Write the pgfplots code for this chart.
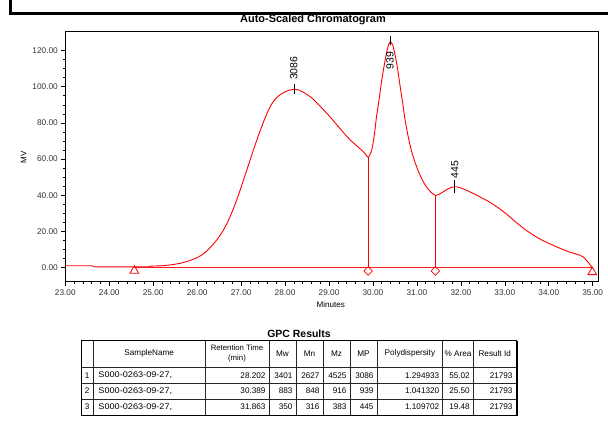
\documentclass[border=0pt]{standalone}
\usepackage{pgfplots}
\pgfplotsset{compat=1.18}
\usepackage{fontspec}
\setmainfont{Liberation Sans}

% detector trace (minutes, mV)
\pgfplotstableread{
t v
23.00 1.1
23.60 1.1
23.65 0.55
24.00 0.5
24.50 0.5
24.90 0.55
24.95 0.9
25.20 1.1
25.40 1.6
25.60 2.4
25.80 3.7
26.00 5.6
26.10 7.0
26.20 8.9
26.30 11.3
26.40 14.0
26.50 17.1
26.60 20.9
26.70 25.6
26.80 31.1
26.90 37.5
27.00 44.5
27.10 51.8
27.20 59.2
27.30 66.5
27.40 73.5
27.50 80.0
27.60 85.9
27.70 90.6
27.80 93.8
27.90 95.8
28.00 97.2
28.10 98.1
28.20 98.6
28.30 98.3
28.40 97.2
28.50 95.7
28.60 94.0
28.70 91.7
28.80 89.2
28.90 86.6
29.00 84.0
29.10 81.2
29.20 78.3
29.30 75.5
29.40 72.7
29.50 70.2
29.60 68.0
29.70 65.9
29.80 63.6
29.89 61.0
29.95 63.5
29.99 67.0
30.04 75.0
30.08 83.4
30.14 93.0
30.19 102.0
30.25 111.0
30.31 119.0
30.36 123.5
30.40 124.8
30.45 123.0
30.50 118.0
30.56 110.0
30.61 101.5
30.67 92.0
30.72 83.4
30.78 75.0
30.84 68.0
30.90 62.5
30.96 58.0
31.03 53.5
31.10 49.6
31.18 46.0
31.26 43.3
31.34 41.3
31.42 40.0
31.50 40.5
31.60 42.0
31.70 43.5
31.80 44.5
31.86 44.8
31.95 44.5
32.05 43.6
32.20 42.0
32.40 39.6
32.65 36.3
32.88 32.6
33.05 29.4
33.26 25.0
33.45 21.3
33.64 18.2
33.85 15.2
34.09 12.5
34.25 10.8
34.40 9.3
34.55 8.1
34.70 7.0
34.78 6.0
34.85 4.3
34.92 2.3
34.99 0.0
}\trace

\begin{document}
\begin{tikzpicture}[x=1bp,y=1bp]
\path[use as bounding box] (0,0) rectangle (608,421);
% report frame
\draw[line width=2.6bp] (10.6,421) -- (10.6,407.4) -- (608,407.4);

\node[font=\bfseries\fontsize{11}{13}\selectfont] at (313,401) {Auto-Scaled Chromatogram};

\begin{axis}[
  at={(65.3bp,139.3bp)}, anchor=south west, scale only axis,
  width=532.7bp, height=250bp,
  xmin=23, xmax=35.12, ymin=-7.7, ymax=130.4,
  xtick={23,24,...,35}, minor x tick num=4,
  ytick={0,20,...,120}, minor y tick num=3,
  xtick pos=lower, ytick pos=left,
  tick align=outside,
  major tick length=4bp, minor tick length=2.5bp,
  every tick/.style={black, line width=0.6bp},
  axis line style={black, line width=0.8bp},
  ticklabel style={font=\fontsize{8.3}{9}\selectfont, text=black!80},
  xticklabel style={yshift=-1bp},
  /pgf/number format/.cd, fixed, fixed zerofill, precision=2, assume math mode=true,
]
% chromatogram
\addplot[red, line width=0.9bp, smooth, tension=0.3] table[x=t, y=v] {\trace};
% integration baseline and peak drops
\addplot[red!90, line width=0.8bp] coordinates {(24.57,0.4) (34.99,0.4)};
\addplot[red, line width=0.9bp] coordinates {(29.89,0.4) (29.89,61.0)};
\addplot[red, line width=0.9bp] coordinates {(31.42,0.4) (31.42,40.0)};
% peak start/end and valley markers
\addplot[only marks, red, mark=triangle, mark size=5bp, mark options={line width=0.8bp, fill=white}]
  coordinates {(24.57,-1.6) (34.99,-2.4)};
\addplot[only marks, red, mark=square, mark size=3bp, mark options={rotate=45, line width=0.8bp, fill=white}]
  coordinates {(29.89,-1.8) (31.42,-1.8)};
% apex ticks
\addplot[black, line width=0.7bp] coordinates {(28.20,96.0) (28.20,101.5)};
\addplot[black, line width=0.7bp] coordinates {(30.39,122.8) (30.39,127.8)};
\addplot[black, line width=0.7bp] coordinates {(31.86,41.1) (31.86,48.5)};
% apex labels
\node[rotate=90, anchor=west, inner sep=0pt, font=\fontsize{10.5}{12}\selectfont] at (axis cs:28.20,103.7) {3086};
\node[rotate=90, anchor=east, inner sep=0pt, font=\fontsize{10.5}{12}\selectfont] at (axis cs:30.39,119.5) {939};
\node[rotate=90, anchor=west, inner sep=0pt, font=\fontsize{10.5}{12}\selectfont] at (axis cs:31.86,49.4) {445};
\end{axis}

\node[font=\fontsize{8.1}{9}\selectfont] at (330.8,116) {Minutes};
\node[rotate=90, font=\fontsize{8}{9}\selectfont] at (23.7,263.5) {MV};

% results table
\node[font=\bfseries\fontsize{10.5}{12}\selectfont] at (299,87.5) {GPC Results};
\begin{scope}[font=\fontsize{8.2}{9}\selectfont]
  % grid
  \foreach \xx in {93.3,205,269,296,323,350,377,442.7,473.3}
    \draw[line width=0.6bp, black!85] (\xx,81) -- (\xx,6);
  \foreach \yy in {53.5,38,22}
    \draw[line width=0.6bp, black!85] (81,\yy) -- (516,\yy);
  \draw[line width=0.8bp] (81,6) rectangle (516,81);
  \draw[line width=1.6bp] (82,5.4) -- (516.8,5.4) -- (516.8,80);
  % header
  \node at (149.2,67.3) {SampleName};
  \node[align=center, inner sep=0pt, font=\fontsize{7.8}{9.5}\selectfont] at (237,67.3) {Retention Time\\(min)};
  \node at (282.5,67.3) {Mw};
  \node at (309.5,67.3) {Mn};
  \node at (336.5,67.3) {Mz};
  \node at (363.5,67.3) {MP};
  \node at (409.9,67.3) {Polydispersity};
  \node at (458,67.3) {\% Area};
  \node at (494.7,67.3) {Result Id};
  % rows
  \foreach \r/\yy/\rt/\mw/\mn/\mz/\mp/\pd/\ar in {
      1/45.8/28.202/3401/2627/4525/3086/1.294933/55.02,
      2/30.0/30.389/883/848/916/939/1.041320/25.50,
      3/14.0/31.863/350/316/383/445/1.109702/19.48} {
    \node at (87.2,\yy) {\r};
    \node[anchor=west, xscale=1.12] at (94.5,\yy) {S000-0263-09-27,};
    \node[anchor=east] at (269,\yy) {\rt};
    \node[anchor=east] at (296,\yy) {\mw};
    \node[anchor=east] at (323,\yy) {\mn};
    \node[anchor=east] at (350,\yy) {\mz};
    \node[anchor=east] at (377,\yy) {\mp};
    \node[anchor=east] at (442.7,\yy) {\pd};
    \node[anchor=east] at (473.3,\yy) {\ar};
    \node[anchor=east] at (516,\yy) {21793};
  }
\end{scope}
\end{tikzpicture}
\end{document}
